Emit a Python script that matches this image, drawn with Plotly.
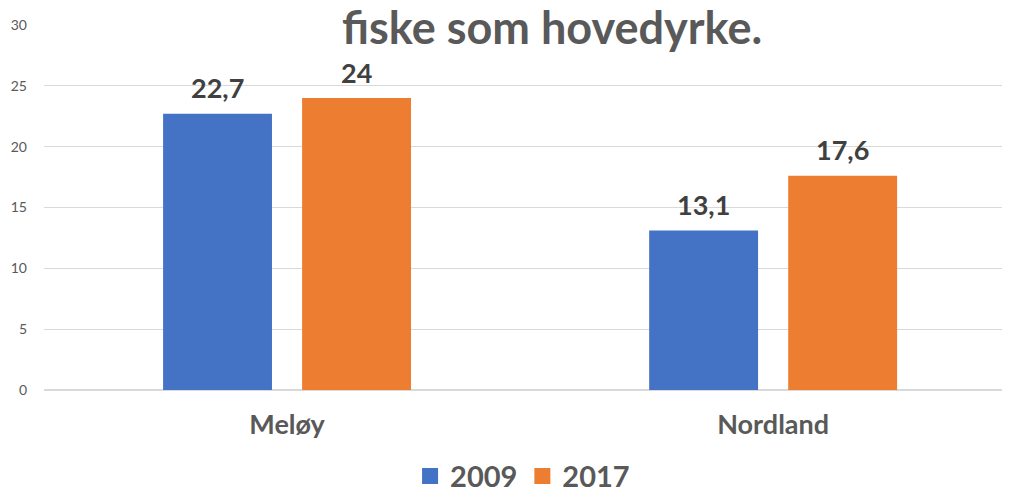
import plotly.graph_objects as go

categories = ['Meløy', 'Nordland']
years = ['2009', '2017']
values_2009 = [22.7, 13.1]
values_2017 = [24, 17.6]
colors = ['#4472C4', '#ED7D31']
title_text = 'fiske som hovedyrke.'

font_family = 'Lato, Carlito, Calibri, sans-serif'
bar_width = 0.224
half_gap = 0.031

fig = go.Figure()
series = [values_2009, values_2017]
offsets = [-bar_width - half_gap, half_gap]
for name, vals, color, off in zip(years, series, colors, offsets):
    fig.add_trace(go.Bar(
        x=list(range(len(categories))), y=vals, name=name,
        marker=dict(color=color, line=dict(width=0)),
        width=bar_width, offset=off, showlegend=False,
    ))
    # bigger square swatch for the legend
    fig.add_trace(go.Scatter(
        x=[None], y=[None], mode='markers', name=name,
        marker=dict(symbol='square', size=17, color=color),
    ))
    # data labels above the bars
    for i, v in enumerate(vals):
        fig.add_annotation(
            x=i + off + bar_width / 2, y=v, xref='x', yref='y',
            text='<b>' + ('%g' % v).replace('.', ',') + '</b>',
            showarrow=False, yshift=26, yanchor='middle',
            font=dict(family=font_family, size=27, color='#404040'),
        )

fig.add_annotation(
    x=0.529, y=0.995, xref='paper', yref='paper',
    text='<b>' + title_text + '</b>', showarrow=False,
    xanchor='center', yanchor='middle',
    font=dict(family=font_family, size=45, color='#595959'),
)

# page body has an 8px margin, so the figure is nudged up/left via margins
fig.update_layout(
    width=1010, height=488,
    margin=dict(l=36, r=13, t=17, b=106, autoexpand=False),
    paper_bgcolor='white', plot_bgcolor='white',
    showlegend=True,
    legend=dict(
        orientation='h', x=0.498, xanchor='center', y=-0.166, yanchor='top',
        font=dict(family=font_family, size=29, color='#595959', weight='bold'),
        itemwidth=30, tracegroupgap=0,
    ),
    font=dict(family=font_family, color='#595959'),
)
fig.update_xaxes(
    range=[-0.5, 1.477], tickvals=list(range(len(categories))), ticktext=categories,
    tickfont=dict(family=font_family, size=27, color='#595959', weight='bold'),
    ticklabelstandoff=16, showgrid=False, zeroline=False, showline=False, ticks='',
    automargin=False,
)
fig.update_yaxes(
    range=[0, 30], dtick=5, showgrid=True, gridcolor='#d9d9d9', gridwidth=1,
    zeroline=True, zerolinecolor='#d9d9d9', zerolinewidth=1.5,
    tickfont=dict(family=font_family, size=14, color='#595959'),
    ticklabelstandoff=16, showline=False, ticks='', automargin=False,
)

fig.write_html('out.html')
